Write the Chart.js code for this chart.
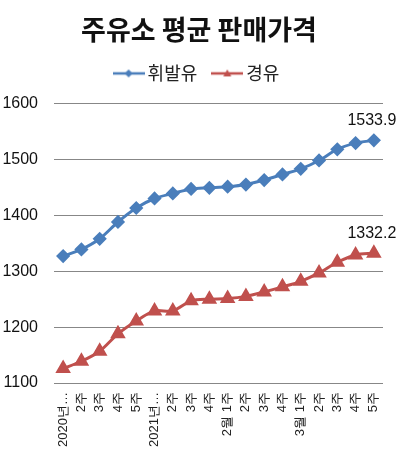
<!DOCTYPE html>
<html>
<head>
<meta charset="utf-8">
<script src="https://cdn.jsdelivr.net/npm/chart.js@4"></script>
<style>
  html, body { margin: 0; padding: 0; background: #fff; }
  #wrap { width: 399px; height: 463px; }
</style>
</head>
<body>
<div id="wrap"><canvas id="priceChart" width="399" height="463"></canvas></div>
<script>
'use strict';

// x categories (weekly)
var weeks = ['2020년…', '2주', '3주', '4주', '5주', '2021년…', '2주', '3주', '4주',
  '2월 1주', '2주', '3주', '4주', '3월 1주', '2주', '3주', '4주', '5주'];

// 휘발유 (gasoline), won per litre
var gasoline = [1327, 1339, 1358, 1388, 1413, 1430, 1439, 1447, 1449, 1451,
  1455, 1463, 1473, 1483, 1498, 1518, 1529, 1533.9];

// 경유 (diesel), won per litre
var diesel = [1126, 1139, 1157, 1188, 1211, 1229, 1229, 1247, 1250, 1251,
  1255, 1263, 1272, 1282, 1297, 1316, 1329, 1332.2];

var yTicks = [1100, 1200, 1300, 1400, 1500, 1600];

var BLUE = '#4a7ebb';
var RED = '#c0504d';
var NUM_FONT = '"Liberation Sans", Arial, sans-serif';
var KO_FONT = '"Noto Sans CJK KR", "Noto Sans", sans-serif';

// legend swatch: a short line with a small series marker on top
function legendSwatch(color, style) {
  const c = document.createElement('canvas');
  c.width = 32;
  c.height = 10;
  const ctx = c.getContext('2d');
  ctx.strokeStyle = color;
  ctx.lineWidth = 2.5;
  ctx.beginPath();
  ctx.moveTo(0, 5);
  ctx.lineTo(32, 5);
  ctx.stroke();
  ctx.fillStyle = color;
  ctx.beginPath();
  if (style === 'diamond') {
    ctx.moveTo(16, 1); ctx.lineTo(20, 5); ctx.lineTo(16, 9); ctx.lineTo(12, 5);
  } else {
    ctx.moveTo(16, 1); ctx.lineTo(20, 8); ctx.lineTo(12, 8);
  }
  ctx.closePath();
  ctx.fill();
  return c;
}

var swatches = [legendSwatch(BLUE, 'diamond'), legendSwatch(RED, 'triangle')];

// extra room between the legend and the plot
var legendGap = {
  id: 'legendGap',
  beforeInit(chart) {
    const fit = chart.legend.fit;
    chart.legend.fit = function () {
      fit.bind(chart.legend)();
      this.height += 11;
    };
  }
};

// value label above the last point of each series
var lastValueLabels = {
  id: 'lastValueLabels',
  afterDatasetsDraw(chart) {
    const ctx = chart.ctx;
    ctx.save();
    ctx.font = '16px ' + NUM_FONT;
    ctx.fillStyle = '#111';
    ctx.textAlign = 'center';
    ctx.textBaseline = 'middle';
    chart.data.datasets.forEach((ds, i) => {
      const meta = chart.getDatasetMeta(i);
      const pt = meta.data[meta.data.length - 1];
      const v = ds.data[ds.data.length - 1];
      ctx.fillText(v.toFixed(1), pt.x - 2, pt.y - 20);
    });
    ctx.restore();
  }
};

new Chart(document.getElementById('priceChart').getContext('2d'), {
  type: 'line',
  data: {
    labels: weeks,
    datasets: [
      {
        label: '휘발유', data: gasoline,
        borderColor: BLUE, backgroundColor: BLUE, borderWidth: 3,
        pointStyle: 'rectRot', pointRadius: 5, pointHoverRadius: 5,
        tension: 0.3
      },
      {
        label: '경유', data: diesel,
        borderColor: RED, backgroundColor: RED, borderWidth: 3,
        pointStyle: 'triangle', pointRadius: 6, pointHoverRadius: 6,
        tension: 0.3
      }
    ]
  },
  options: {
    responsive: false,
    animation: false,
    layout: { padding: { left: 2, right: 3, top: 14, bottom: 15 } },
    plugins: {
      title: {
        display: true,
        text: '주유소 평균 판매가격',
        color: '#111',
        font: { family: KO_FONT, size: 27, weight: 'bold' },
        padding: { top: 0, bottom: -2 }
      },
      legend: {
        position: 'top',
        labels: {
          usePointStyle: true,
          pointStyleWidth: 20,
          color: '#222',
          font: { family: KO_FONT, size: 18 },
          padding: 20,
          generateLabels(chart) {
            const items = Chart.defaults.plugins.legend.labels.generateLabels(chart);
            items.forEach((it, i) => { it.pointStyle = swatches[i]; });
            return items;
          }
        }
      },
      tooltip: { enabled: false }
    },
    scales: {
      x: {
        offset: true,
        grid: { display: false },
        border: { display: false },
        afterFit(axis) { axis.paddingRight = 16; },
        ticks: {
          autoSkip: false,
          minRotation: 90,
          maxRotation: 90,
          padding: 1,
          color: '#222',
          font: { family: NUM_FONT, size: 13 }
        }
      },
      y: {
        min: 1100,
        max: 1600,
        afterBuildTicks(axis) { axis.ticks = yTicks.map(v => ({ value: v })); },
        afterFit(axis) { axis.width = 52; },
        grid: { color: '#878787', lineWidth: 1, drawTicks: false },
        border: { display: false },
        ticks: {
          padding: 16,
          color: '#111',
          font: { family: NUM_FONT, size: 16 },
          callback: v => String(v)
        }
      }
    }
  },
  plugins: [legendGap, lastValueLabels]
});
</script>
</body>
</html>
